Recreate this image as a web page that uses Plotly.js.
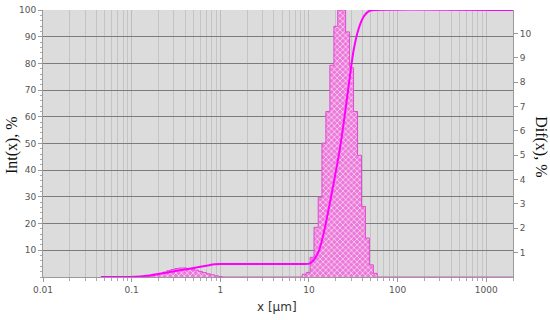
<!DOCTYPE html>
<html>
<head>
<meta charset="utf-8">
<script src="https://cdn.plot.ly/plotly-3.0.1.min.js"></script>
<style>
html,body{margin:0;padding:0;background:#fff;}
#chart{width:550px;height:320px;}
</style>
</head>
<body>
<div id="chart"></div>
<script>
// ---- data ----
// small (fine) mode: bin edges in µm and differential values in %
const fineEdges = [0.150, 0.166, 0.184, 0.204, 0.226, 0.250, 0.277, 0.307, 0.340, 0.377, 0.418, 0.463, 0.513, 0.568, 0.630, 0.698, 0.773, 0.857, 0.950, 1.050];
const fineDif   = [0.03, 0.06, 0.10, 0.15, 0.20, 0.26, 0.31, 0.35, 0.37, 0.37, 0.35, 0.32, 0.28, 0.23, 0.18, 0.13, 0.09, 0.05, 0.02];
// main (coarse) mode
const mainEdges = [8.4, 9.3, 10.3, 11.4, 12.7, 14.0, 15.5, 17.2, 19.1, 21.1, 23.4, 25.9, 28.7, 31.8, 35.3, 39.1, 43.3, 48.0, 53.2, 58.9];
const mainDif   = [0.11, 0.19, 0.81, 2.04, 3.28, 5.5, 6.8, 8.7, 10.3, 10.97, 10.97, 10.07, 8.6, 6.8, 5.0, 2.9, 1.6, 0.5, 0.15];
// range ends of the distribution baseline
const xStart = 0.045, xEnd = 2000;
// cumulative curve Int(x), %
const cumX = [0.045, 0.096, 0.16, 0.27, 0.45, 0.75, 0.85, 1.0, 8.2, 10.1, 11.4, 13.0, 14.8, 16.8, 19.2, 21.8, 24.7, 28.1, 31.9, 36.3, 41.3, 46.9, 53.4, 2000];
const cumY = [0, 0, 0.6, 1.9, 3.1, 4.4, 4.8, 4.9, 4.9, 5.0, 6.5, 10, 17, 26, 36, 46, 58, 72, 85, 93, 97.5, 99.5, 100, 100];
// ticks
const xTickVals = [0.01, 0.1, 1, 10, 100, 1000];
const xTickText = ['0.01', '0.1', '1', '10', '100', '1000'];
const intTicks = [10, 20, 30, 40, 50, 60, 70, 80, 90, 100];
const difTicks = [1, 2, 3, 4, 5, 6, 7, 8, 9, 10];

// build step outline of the histogram
const hx = [xStart], hy = [0];
fineEdges.forEach((e, i) => { hx.push(e); hy.push(i < fineDif.length ? fineDif[i] : 0); });
mainEdges.forEach((e, i) => { hx.push(e); hy.push(i < mainDif.length ? mainDif[i] : 0); });
hx.push(xEnd); hy.push(0);

const tickFont = {family: 'DejaVu Sans, sans-serif', size: 9, color: '#555'};

const traces = [
  {
    x: hx, y: hy, type: 'scatter', mode: 'lines',
    line: {shape: 'hv', color: '#e04ad0', width: 1},
    fill: 'tozeroy',
    fillcolor: 'rgba(240,150,225,0.9)',
    fillpattern: {shape: 'x', fgcolor: '#f6dcf2', bgcolor: '#ec78da', size: 4, solidity: 0.35},
    xaxis: 'x', yaxis: 'y', hoverinfo: 'skip', showlegend: false
  },
  {
    x: cumX, y: cumY, type: 'scatter', mode: 'lines',
    line: {color: '#ff00ff', width: 2, shape: 'spline', smoothing: 0.6},
    xaxis: 'x', yaxis: 'y2', hoverinfo: 'skip', showlegend: false
  }
];

const layout = {
  width: 550, height: 320,
  margin: {l: 43, r: 37, t: 10, b: 43, pad: 0},
  paper_bgcolor: '#ffffff',
  plot_bgcolor: '#dcdcdc',
  showlegend: false,
  xaxis: {
    type: 'log', range: [-2, Math.log10(2000)],
    tickmode: 'array', tickvals: xTickVals, ticktext: xTickText,
    ticks: 'outside', ticklen: 4, tickcolor: '#999',
    showline: true, linecolor: '#9a9a9a', linewidth: 1,
    showgrid: true, gridcolor: '#bdbdbd', gridwidth: 1,
    minor: {dtick: 'D1', showgrid: true, gridcolor: '#c4c4c4', gridwidth: 1, ticks: 'outside', ticklen: 3, tickcolor: '#aaa'},
    zeroline: false, tickfont: tickFont
  },
  yaxis: {
    side: 'right', range: [0, 10.97],
    tickmode: 'array', tickvals: difTicks,
    ticks: 'outside', ticklen: 4, tickcolor: '#999',
    showline: true, linecolor: '#9a9a9a', linewidth: 1,
    showgrid: false, zeroline: false, tickfont: tickFont
  },
  yaxis2: {
    overlaying: 'y', side: 'left', range: [0, 100],
    tickmode: 'array', tickvals: intTicks,
    ticks: 'outside', ticklen: 4, tickcolor: '#999',
    showline: true, linecolor: '#9a9a9a', linewidth: 1,
    showgrid: true, gridcolor: '#7c7c7c', gridwidth: 1,
    minor: {dtick: 2, ticks: 'outside', ticklen: 2, tickcolor: '#aaa', showgrid: false},
    zeroline: false, tickfont: tickFont
  },
  annotations: [
    {text: 'Int(x), %', xref: 'paper', yref: 'paper', x: -0.066, y: 0.494, textangle: -90,
     showarrow: false, xanchor: 'center', yanchor: 'middle',
     font: {family: 'Liberation Serif, serif', size: 16, color: '#111'}},
    {text: 'Dif(x), %', xref: 'paper', yref: 'paper', x: 1.0596, y: 0.49, textangle: 90,
     showarrow: false, xanchor: 'center', yanchor: 'middle',
     font: {family: 'Liberation Serif, serif', size: 16, color: '#111'}},
    {text: 'x [µm]', xref: 'paper', yref: 'paper', x: 0.498, y: -0.112,
     showarrow: false, xanchor: 'center', yanchor: 'middle',
     font: {family: 'DejaVu Sans, sans-serif', size: 12, color: '#333'}}
  ]
};

Plotly.newPlot('chart', traces, layout, {displayModeBar: false, staticPlot: true});
</script>
</body>
</html>
